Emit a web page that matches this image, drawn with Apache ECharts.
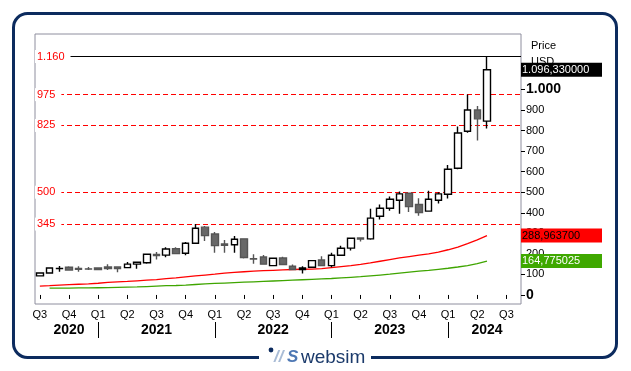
<!DOCTYPE html>
<html><head><meta charset="utf-8">
<script src="https://cdn.jsdelivr.net/npm/echarts@6/dist/echarts.min.js"></script>
<style>html,body{margin:0;padding:0;background:#fff}#c{width:631px;height:371px}</style>
</head><body><div id="c"></div><script>
// ---------- data ----------
const categories = [
 '2020-07','2020-08','2020-09','2020-10','2020-11','2020-12',
 '2021-01','2021-02','2021-03','2021-04','2021-05','2021-06','2021-07','2021-08','2021-09','2021-10','2021-11','2021-12',
 '2022-01','2022-02','2022-03','2022-04','2022-05','2022-06','2022-07','2022-08','2022-09','2022-10','2022-11','2022-12',
 '2023-01','2023-02','2023-03','2023-04','2023-05','2023-06','2023-07','2023-08','2023-09','2023-10','2023-11','2023-12',
 '2024-01','2024-02','2024-03','2024-04','2024-05','2024-06','2024-07','2024-08'
];
const opens  = [93,107,128,135,129,127,131,136,136,133,150,157,197,194,225,203,252,330,297,248,244,273,176,185,143,180,140,124,135,170,143,193,228,277,273,383,422,461,495,440,408,461,490,617,797,900,846];
const closes = [107,131,129,121,125,126,124,129,128,150,159,198,192,224,201,252,325,289,240,242,271,182,175,150,179,148,124,131,167,143,193,227,276,272,374,422,466,492,430,401,466,492,612,788,900,857,1096.33];
const lows   = [92,106,113,120,113,121,122,121,110,132,128,152,172,184,200,193,250,263,206,206,206,177,152,148,141,146,122,104,133,140,135,190,216,260,269,367,410,395,404,386,405,445,469,612,790,752,810];
const highs  = [108,133,141,140,140,136,133,149,137,161,161,199,209,232,232,258,345,335,307,268,287,275,198,195,182,186,148,140,170,188,206,239,278,278,419,440,479,503,497,471,507,500,632,820,975,919,1160];
const maRed   = [43,45,48,50,52,54,57,61,64,66,69,72,75,79,83,88,93,97,101,106,110,113,116,118,120,122,124,125,126,128,133,138,143,149,156,164,172,180,187,194,200,208,220,233,250,268,288.9637];
const maGreen = [null,33,33,33,34,34,35,36,37,38,39,41,43,45,46,48,51,54,56,58,60,62,64,66,68,70,72,74,76,78,80,83,86,89,93,97,101,106,111,116,120,125,130,136,143,152,164.775025];
const levels = [1160, 975, 825, 500, 345];
const yTicks = [0,100,200,300,400,500,600,700,800,900,1000];
const quarterNames = {1:'Q1',4:'Q2',7:'Q3',10:'Q4'};

// ---------- helpers ----------
const FONT = '"Liberation Sans", Arial, sans-serif';
function fmtDE(v, dec){
  const s = v.toFixed(dec || 0).split('.');
  const ip = s[0].replace(/\B(?=(\d{3})+(?!\d))/g, '.');
  return s.length > 1 ? ip + ',' + s[1] : ip;
}
const monthOf = c => parseInt(c.slice(5), 10);
const yearOf  = c => c.slice(0, 4);
const n = categories.length;
// year label index: middle of each year's visible span
const yearLabelIdx = {};
(function(){
  const starts = [];
  categories.forEach((c, i) => { if (i === 0 || monthOf(c) === 1) starts.push(i); });
  starts.forEach((s, k) => {
    const a = s === 0 ? -0.5 : s;
    const b = k + 1 < starts.length ? starts[k + 1] : n - 0.5;
    yearLabelIdx[Math.round((a + b) / 2)] = yearOf(categories[s]);
  });
})();

const candleData = opens.map((o, i) => [o, closes[i], lows[i], highs[i]]);
const lastClose = closes[closes.length - 1];
const lastRed = maRed[maRed.length - 1];
const lastGreen = maGreen[maGreen.length - 1];

function tag(value, bg, fg){
  return {
    yAxis: value,
    lineStyle: { color: 'rgba(0,0,0,0)', width: 0 },
    label: {
      show: true, position: 'end', distance: 0, align: 'left', verticalAlign: 'middle',
      formatter: fmtDE(value, 6), color: fg, backgroundColor: bg,
      fontFamily: FONT, fontSize: 11, lineHeight: 13, width: 78, padding: [1, 2, 0, 1]
    }
  };
}

const levelLines = levels.map((v, k) => ({
  yAxis: v,
  lineStyle: k === 0 ? { color: '#000', type: 'solid', width: 1 } : { color: '#ff0000', type: [5, 3], width: 1.2 },
  label: {
    show: true, position: 'start', distance: 0, align: 'left', verticalAlign: 'middle',
    formatter: fmtDE(v), color: '#ff0000', fontFamily: FONT, fontSize: 11,
    backgroundColor: '#fff', padding: [1, 6, 1, 2]
  }
}));

const chart = echarts.init(document.getElementById('c'), null, { renderer: 'canvas' });
chart.setOption({
  animation: false,
  backgroundColor: '#fff',
  textStyle: { fontFamily: FONT },
  title: {
    text: 'Price\n' + 'USD', left: 526, top: 33,
    textStyle: { fontFamily: FONT, fontSize: 11, fontWeight: 'normal', color: '#000', lineHeight: 16 }
  },
  grid: { left: 35, top: 34, right: 110, bottom: 67, show: true, borderColor: '#8e8e9e', borderWidth: 1, backgroundColor: 'transparent' },
  xAxis: [{
    type: 'category', data: categories, boundaryGap: true,
    axisLine: { show: false },
    axisTick: { show: true, alignWithLabel: true, length: 4, lineStyle: { color: '#000' },
      interval: (i, c) => quarterNames[monthOf(c)] !== undefined },
    axisLabel: { interval: (i, c) => quarterNames[monthOf(c)] !== undefined,
      formatter: c => quarterNames[monthOf(c)] || '', color: '#000', fontSize: 11, margin: 5, fontFamily: FONT },
    splitLine: { show: false }
  }, {
    type: 'category', data: categories, boundaryGap: true, position: 'bottom', offset: 18,
    axisLine: { show: false },
    axisTick: { show: true, alignWithLabel: true, length: 16, lineStyle: { color: '#000', width: 1 },
      interval: (i, c) => i > 0 && monthOf(c) === 1 },
    axisLabel: { interval: (i) => yearLabelIdx[i] !== undefined,
      formatter: (c, i) => yearLabelIdx[i] || '', color: '#000', fontSize: 14, fontWeight: 'bold', margin: 1, fontFamily: FONT },
    splitLine: { show: false }
  }],
  yAxis: {
    type: 'value', position: 'right', min: -44, max: 1270, scale: false,
    axisLine: { show: false },
    splitLine: { show: false },
    axisTick: { show: true, length: 4, lineStyle: { color: '#000' }, customValues: yTicks },
    axisLabel: {
      customValues: yTicks, margin: 5, color: '#000', fontSize: 11, fontFamily: FONT,
      formatter: v => (v === 0 || v === 1000) ? '{b|' + fmtDE(v) + '}' : fmtDE(v),
      rich: { b: { fontSize: 14, fontWeight: 'bold', color: '#000', fontFamily: FONT } }
    }
  },
  series: [{
    type: 'candlestick', name: 'Price', data: candleData, barWidth: 7, z: 3,
    itemStyle: { color: '#ffffff', color0: '#686868', borderColor: '#000000', borderColor0: '#555555', borderWidth: 1.4 },
    markLine: {
      silent: true, symbol: 'none', z: 1, animation: false,
      data: levelLines.concat([tag(lastClose, '#000000', '#ffffff')])
    }
  }, {
    type: 'line', name: 'MA red', data: maRed, showSymbol: false, symbol: 'none', z: 2,
    lineStyle: { color: '#ff0000', width: 1.3 },
    markLine: { silent: true, symbol: 'none', z: 6, animation: false, data: [tag(lastRed, '#ff0000', '#000000')] }
  }, {
    type: 'line', name: 'MA green', data: maGreen, showSymbol: false, symbol: 'none', z: 2,
    lineStyle: { color: '#3fa500', width: 1.3 },
    markLine: { silent: true, symbol: 'none', z: 6, animation: false, data: [tag(lastGreen, '#3fa800', '#ffffff')] }
  }],
  graphic: [
    { type: 'rect', z: 50, shape: { x: 13.5, y: 13.5, width: 603, height: 344, r: 14 },
      style: { fill: 'none', stroke: '#0c2b5e', lineWidth: 3 } },
    { type: 'rect', z: 51, shape: { x: 259, y: 350, width: 112, height: 16 }, style: { fill: '#fff' } },
    { type: 'circle', z: 52, shape: { cx: 271, cy: 350, r: 2.4 }, style: { fill: '#0c2b5e' } },
    { type: 'text', z: 52, x: 274, y: 349, style: { text: '//', fontFamily: FONT, fontSize: 17, fontStyle: 'italic', fontWeight: 'bold', fill: '#a9bcd6' } },
    { type: 'text', z: 52, x: 287, y: 349, style: { text: 'S', fontFamily: FONT, fontSize: 17, fontStyle: 'italic', fontWeight: 'bold', fill: '#4e78b4' } },
    { type: 'text', z: 52, x: 301, y: 348, style: { text: 'websim', fontFamily: FONT, fontSize: 19, fill: '#1b3a6b' } }
  ]
});
</script></body></html>
